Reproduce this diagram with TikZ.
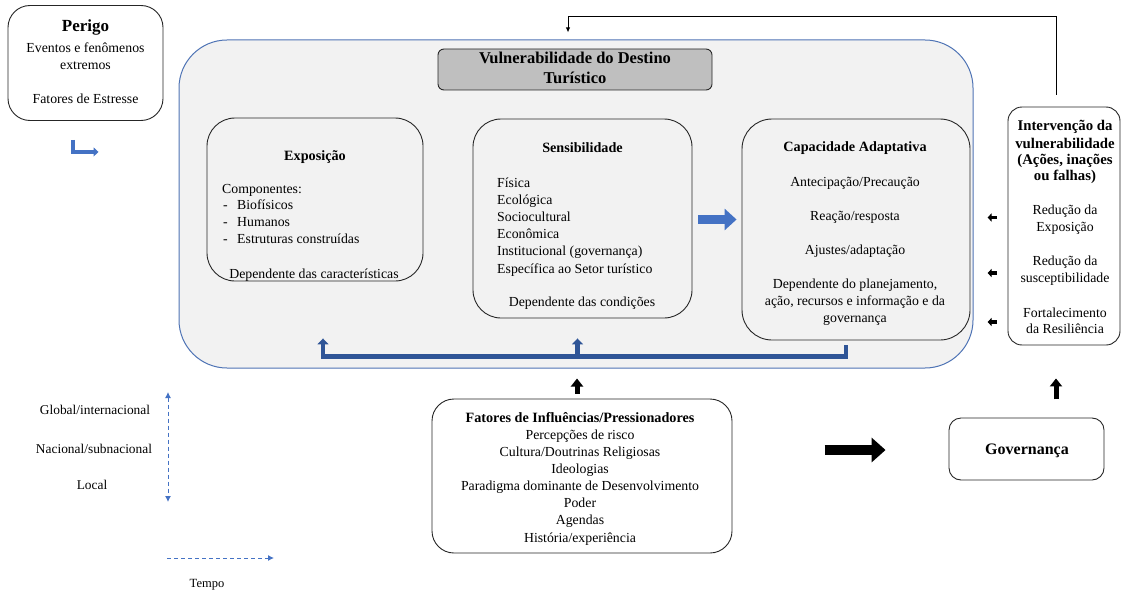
\documentclass[tikz,border=0pt]{standalone}
\usepackage{fontspec}
\setmainfont{Liberation Serif}
\usetikzlibrary{calc,arrows.meta}
\definecolor{panel}{HTML}{F2F2F2}
\definecolor{frameblue}{HTML}{4F74B5}
\definecolor{barblue}{HTML}{2F5597}
\definecolor{arrblue}{HTML}{4472C4}
\definecolor{titlegray}{HTML}{BFBFBF}
\begin{document}
\begin{tikzpicture}[x=1pt,y=-1pt,
  box/.style={draw=black!85, line width=0.9pt, rounded corners=#1, inner sep=0pt},
  box/.default=20pt,
  txt/.style={inner sep=0pt, font=\fontsize{13.8}{17}\selectfont, text height=10.5pt, text depth=0.5pt},
  hd/.style={txt, font=\fontsize{14.2}{17}\selectfont\bfseries},
  side/.style={txt, font=\fontsize{13.4}{16}\selectfont},
  bar/.style={draw=barblue, line width=4.5pt, line join=miter},
  bartip/.style={-{Triangle[length=6pt,width=11pt]}},
  blk/.style={draw=black, line width=5pt, -{Triangle[length=8pt,width=12pt]}},
  tiny/.style={draw=black, line width=3.5pt, -{Triangle[length=4pt,width=8pt]}},
  axis/.style={draw=arrblue, line width=1pt, dash pattern=on 4pt off 3pt, {Latex[length=6pt,width=6pt]}-{Latex[length=6pt,width=6pt]}},
  axisr/.style={draw=arrblue, line width=1pt, dash pattern=on 4pt off 3pt, -{Latex[length=6pt,width=6pt]}}
]
\useasboundingbox (0,0) rectangle (1123,591);

% hazard box
\node[box=22pt, fill=white, minimum width=155pt, minimum height=115pt] (per) at (85.5,63) {};
\node[txt, font=\fontsize{17}{20}\selectfont\bfseries] (perT) at (85.5,27) {Perigo};
\node[txt] (per1) at (85.5,48) {Eventos e fenômenos};
\node[txt] (per2) at (85.5,65) {extremos};
\node[txt] (per3) at (85.5,99) {Fatores de Estresse};
\draw[draw=arrblue, line width=3.5pt, line join=miter, -{Triangle[length=5pt,width=9pt]}]
  ($(per.south)+(-12.5,19)$) |- ($(per.south)+(13,31)$);

% destination vulnerability panel
\node[draw=frameblue, line width=1pt, fill=panel, rounded corners=48pt,
      minimum width=794pt, minimum height=328pt, inner sep=0pt] (outer) at (576,204) {};
\node[box=6pt, fill=titlegray, minimum width=274pt, minimum height=41pt] (ttl) at (575,69.5) {};
\node[txt, font=\fontsize{16.5}{20}\selectfont\bfseries] (ttl1) at (575,59) {Vulnerabilidade do Destino};
\node[txt, font=\fontsize{16.5}{20}\selectfont\bfseries] (ttl2) at (575,79) {Turístico};

% exposure
\node[box=28pt, fill=panel, minimum width=216pt, minimum height=163pt] (expo) at (315,199.5) {};
\node[hd] (expoT) at (315,155) {Exposição};
\node[txt, anchor=west] (expo0) at (222,188) {Componentes:};
\foreach \s [count=\i] in {Biofísicos, Humanos, Estruturas construídas}{
  \node[txt, anchor=west] (expod\i) at (223,187+17.2*\i) {-};
  \node[txt, anchor=west] (expo\i) at (237,187+17.2*\i) {\s};
}
\node[txt] (expoD) at (314,273) {Dependente das características};

% sensitivity
\node[box=28pt, fill=panel, minimum width=219pt, minimum height=199pt] (sens) at (582.5,218.5) {};
\node[hd] (sensT) at (582.5,147) {Sensibilidade};
\foreach \s [count=\i] in {Física, Ecológica, Sociocultural, Econômica, Institucional (governança), Específica ao Setor turístico}{
  \node[txt, anchor=west] (sens\i) at (497,164.8+17.2*\i) {\s};
}
\node[txt] (sensD) at (582,301) {Dependente das condições};

% adaptive capacity
\node[box=30pt, fill=panel, minimum width=228pt, minimum height=221pt] (cap) at (856,229.5) {};
\node[hd] (capT) at (855,146) {Capacidade Adaptativa};
\node[txt] (cap1) at (855,181) {Antecipação/Precaução};
\node[txt] (cap2) at (855,215) {Reação/resposta};
\node[txt] (cap3) at (855,249) {Ajustes/adaptação};
\node[txt] (cap4) at (855,283) {Dependente do planejamento,};
\node[txt] (cap5) at (855,300) {ação, recursos e informação e da};
\node[txt] (cap6) at (855,317) {governança};

% sensitivity -> adaptive capacity
\draw[draw=arrblue, line width=9pt, -{Triangle[length=12pt,width=21pt]}]
  ($(sens.east)+(6,1)$) -- ($(cap.west |- sens.east)+(-5,1)$);

% feedback bar along the panel bottom
\coordinate (lineR) at ($(cap.south |- outer.south)+(-10,-12)$);
\coordinate (lineL) at ($(expo.south |- outer.south)+(8,-12)$);
\coordinate (lineM) at ($(sens.south |- outer.south)+(-5,-12)$);
\draw[bar, bartip] ($(cap.south)+(-10,5)$) -- (lineR) -- (lineL) -- ($(expo.south)+(8,57)$);
\draw[bar, bartip] (lineM) -- ($(sens.south)+(-5,20)$);

% intervention
\node[box=14pt, fill=white, minimum width=112pt, minimum height=238pt] (int) at (1064,226) {};
\node[hd, font=\fontsize{14.8}{17}\selectfont\bfseries] (intT1) at (1065,126) {Intervenção da};
\node[hd, font=\fontsize{14.8}{17}\selectfont\bfseries] (intT2) at (1065,143) {vulnerabilidade};
\node[hd, font=\fontsize{14.8}{17}\selectfont\bfseries] (intT3) at (1065,159) {(Ações, inações};
\node[hd, font=\fontsize{14.8}{17}\selectfont\bfseries] (intT4) at (1065,175) {ou falhas)};
\node[txt] (int1) at (1065,209) {Redução da};
\node[txt] (int2) at (1065,226) {Exposição};
\node[txt] (int3) at (1065,260) {Redução da};
\node[txt] (int4) at (1065,277) {susceptibilidade};
\node[txt] (int5) at (1065,312) {Fortalecimento};
\node[txt] (int6) at (1065,328) {da Resiliência};
\foreach \dy in {-8.5,47,96}{
  \draw[tiny] ($(int.west)+(-11,\dy)$) -- ($(int.west)+(-20,\dy)$);
}
\draw[line width=1pt, -{Latex[length=5pt,width=4.5pt]}]
  ($(int.north)+(-8,-12)$) -- ++(0,-78) -| ($(outer.north)+(-8,-7)$);

% influencing factors
\node[box=22pt, fill=white, minimum width=300pt, minimum height=154pt] (fat) at (582,476) {};
\node[hd] (fatT) at (580,417) {Fatores de Influências/Pressionadores};
\foreach \s [count=\i] in {Percepções  de risco, Cultura/Doutrinas Religiosas, Ideologias,
    Paradigma dominante de Desenvolvimento, Poder, Agendas, História/experiência}{
  \node[txt] (fat\i) at (580,417.3+17.1*\i) {\s};
}
\draw[blk] ($(fat.north)+(-5,-5)$) -- ($(fat.north |- outer.south)+(-5,10)$);

% governance
\node[box=12pt, fill=white, minimum width=155pt, minimum height=62pt] (gov) at (1026.5,449) {};
\node[txt, font=\fontsize{16}{19}\selectfont\bfseries] (govT) at (1027,449) {Governança};
\draw[draw=black, line width=10pt, -{Triangle[length=14pt,width=24pt]}]
  ($(gov.west)+(-124,1)$) -- ($(gov.west)+(-63,1)$);
\draw[blk] ($(int.south)+(-8,54)$) -- ($(int.south)+(-8,33)$);

% scale and time axes
\node[side] (lvG) at (95,409) {Global/internacional};
\node[side] (lvN) at (94,448) {Nacional/subnacional};
\node[side] (lvL) at (92,484) {Local};
\coordinate (axTop) at (168,392);
\coordinate (axBot) at (168,502);
\draw[axis] (axTop) -- (axBot);
\coordinate (tmA) at (167,558);
\coordinate (tmB) at (274,558);
\draw[axisr] (tmA) -- (tmB);
\node[txt, font=\fontsize{12.5}{15}\selectfont] (tempo) at (207,582) {Tempo};
\end{tikzpicture}
\end{document}
